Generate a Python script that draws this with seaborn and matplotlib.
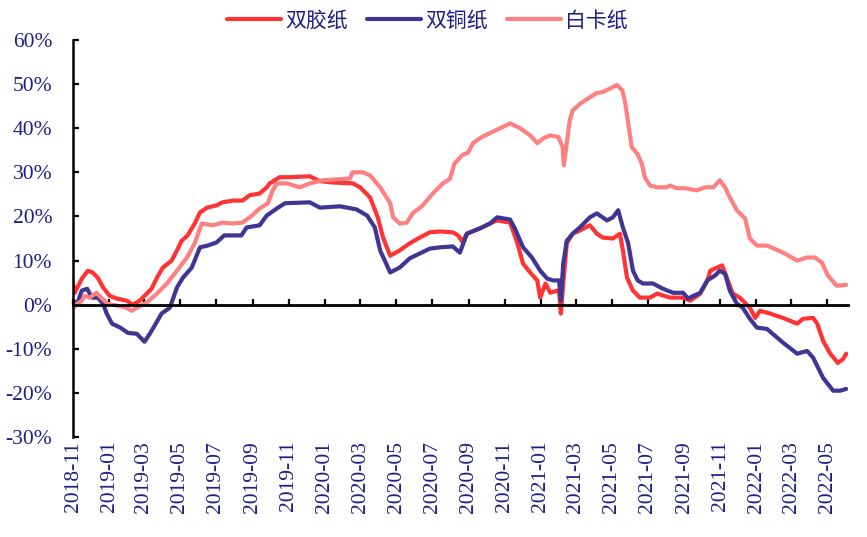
import matplotlib
matplotlib.use("Agg")
import matplotlib.pyplot as plt
import matplotlib.dates as mdates
from matplotlib.ticker import FuncFormatter
import pandas as pd
import seaborn as sns

# ---- data -------------------------------------------------------------
series_names = ["双胶纸", "双铜纸", "白卡纸"]
series_colors = ["#FF3333", "#3F3593", "#FF8080"]

offset_dates = [
    "2018-11-01", "2018-11-04", "2018-11-16", "2018-11-26", "2018-12-04", "2018-12-13",
    "2018-12-22", "2019-01-02", "2019-01-14", "2019-01-31", "2019-02-10", "2019-02-22",
    "2019-03-02", "2019-03-14", "2019-03-23", "2019-04-02", "2019-04-17", "2019-04-26",
    "2019-05-04", "2019-05-14", "2019-05-26", "2019-06-04", "2019-06-16", "2019-07-02",
    "2019-07-12", "2019-07-30", "2019-08-15", "2019-08-27", "2019-09-13", "2019-09-25",
    "2019-09-30", "2019-10-17", "2019-11-03", "2019-12-07", "2019-12-24", "2020-01-15",
    "2020-02-18", "2020-03-01", "2020-03-18", "2020-03-31", "2020-04-09", "2020-04-21",
    "2020-05-07", "2020-05-24", "2020-06-10", "2020-06-27", "2020-07-14", "2020-08-05",
    "2020-08-14", "2020-08-21", "2020-08-29", "2020-09-20", "2020-10-07", "2020-10-19",
    "2020-11-10", "2020-11-21", "2020-12-02", "2020-12-14", "2020-12-26", "2020-12-31",
    "2021-01-09", "2021-01-17", "2021-01-29", "2021-02-01", "2021-02-04", "2021-02-08",
    "2021-02-14", "2021-02-24", "2021-03-08", "2021-03-25", "2021-04-06", "2021-04-16",
    "2021-05-03", "2021-05-15", "2021-05-20", "2021-05-27", "2021-06-06", "2021-06-18",
    "2021-07-05", "2021-07-17", "2021-08-08", "2021-08-30", "2021-09-11", "2021-09-28",
    "2021-10-10", "2021-10-15", "2021-10-23", "2021-11-04", "2021-11-12", "2021-11-22",
    "2021-12-04", "2021-12-21", "2021-12-30", "2022-01-07", "2022-01-19", "2022-02-15",
    "2022-03-11", "2022-03-21", "2022-04-07", "2022-04-14", "2022-04-24", "2022-05-06",
    "2022-05-19", "2022-05-28", "2022-06-02",
]
offset_values = [
    4.8, 2.7, 5.9, 7.7, 7.3, 6.1, 3.9, 2.0, 1.4, 0.9, 0.0, 0.9,
    2.0, 3.6, 6.1, 8.4, 10.0, 12.3, 14.5, 15.7, 18.4, 20.9, 22.0, 22.5,
    23.2, 23.6, 23.6, 24.8, 25.2, 26.6, 27.5, 28.9, 28.9, 29.1, 28.0, 27.7,
    27.5, 26.6, 24.3, 19.8, 15.2, 11.1, 12.3, 13.9, 15.2, 16.4, 16.6, 16.4,
    15.7, 14.3, 16.1, 17.3, 18.4, 19.1, 18.6, 14.5, 9.3, 7.3, 5.5, 1.6,
    4.8, 2.7, 3.2, 3.0, -2.0, 4.8, 13.9, 16.1, 16.8, 18.0, 16.1, 15.2,
    15.0, 16.1, 12.3, 6.1, 3.2, 1.6, 1.6, 2.5, 1.6, 1.6, 0.9, 2.5,
    5.5, 7.7, 8.2, 8.9, 6.1, 2.5, 1.6, -0.7, -3.0, -1.4, -1.8, -3.0,
    -4.3, -3.2, -3.0, -4.3, -8.2, -11.1, -13.2, -12.3, -11.1,
]

coated_dates = [
    "2018-11-01", "2018-11-08", "2018-11-16", "2018-11-25", "2018-12-03", "2018-12-13",
    "2018-12-22", "2018-12-28", "2019-01-06", "2019-01-20", "2019-02-02", "2019-02-17",
    "2019-02-25", "2019-03-02", "2019-03-11", "2019-03-19", "2019-03-31", "2019-04-14",
    "2019-04-26", "2019-05-06", "2019-05-21", "2019-06-04", "2019-06-17", "2019-07-02",
    "2019-07-15", "2019-08-13", "2019-08-22", "2019-09-13", "2019-09-25", "2019-10-12",
    "2019-10-26", "2019-12-07", "2019-12-24", "2020-01-27", "2020-02-24", "2020-03-13",
    "2020-03-26", "2020-04-04", "2020-04-21", "2020-05-07", "2020-05-24", "2020-06-10",
    "2020-06-27", "2020-07-14", "2020-08-05", "2020-08-17", "2020-08-29", "2020-09-20",
    "2020-10-07", "2020-10-19", "2020-11-10", "2020-11-18", "2020-12-02", "2020-12-17",
    "2020-12-31", "2021-01-12", "2021-01-22", "2021-02-01", "2021-02-04", "2021-02-08",
    "2021-02-14", "2021-02-24", "2021-03-08", "2021-03-25", "2021-04-06", "2021-04-23",
    "2021-05-03", "2021-05-12", "2021-05-20", "2021-05-29", "2021-06-06", "2021-06-14",
    "2021-06-23", "2021-07-10", "2021-07-27", "2021-08-13", "2021-08-30", "2021-09-07",
    "2021-09-28", "2021-10-10", "2021-10-23", "2021-10-31", "2021-11-09", "2021-11-17",
    "2021-11-29", "2021-12-09", "2021-12-21", "2022-01-02", "2022-01-19", "2022-02-15",
    "2022-03-11", "2022-03-28", "2022-04-07", "2022-04-24", "2022-05-11", "2022-05-23",
    "2022-06-02",
]
coated_values = [
    0.9, 0.2, 3.2, 3.6, 1.6, 1.6, 0.2, -2.0, -4.3, -5.2, -6.4, -6.6,
    -7.7, -8.4, -6.6, -4.8, -2.0, -0.7, 3.9, 6.1, 8.4, 13.0, 13.4, 14.1,
    15.7, 15.7, 17.5, 18.0, 20.2, 21.8, 23.0, 23.2, 22.0, 22.3, 21.6, 20.2,
    17.5, 12.3, 7.3, 8.4, 10.5, 11.6, 12.7, 13.0, 13.2, 11.8, 16.1, 17.3,
    18.4, 19.8, 19.3, 17.3, 13.0, 10.7, 7.7, 5.9, 5.5, 5.5, 0.9, 9.3,
    14.5, 16.1, 17.5, 19.8, 20.7, 19.1, 19.8, 21.4, 17.5, 13.9, 7.7, 5.5,
    4.8, 4.8, 3.6, 2.7, 2.7, 1.4, 2.7, 5.5, 6.6, 7.7, 7.0, 3.2,
    0.2, -0.7, -3.2, -5.2, -5.5, -8.6, -11.1, -10.5, -12.0, -16.6, -19.5, -19.5,
    -19.1,
]

board_dates = [
    "2018-11-01", "2018-11-08", "2018-11-16", "2018-11-21", "2018-11-29", "2018-12-11",
    "2018-12-20", "2018-12-30", "2019-01-14", "2019-01-31", "2019-02-08", "2019-02-17",
    "2019-03-06", "2019-03-23", "2019-04-09", "2019-04-26", "2019-05-13", "2019-05-26",
    "2019-06-07", "2019-06-26", "2019-07-12", "2019-07-30", "2019-08-15", "2019-08-31",
    "2019-09-13", "2019-09-27", "2019-10-05", "2019-10-12", "2019-10-29", "2019-11-20",
    "2019-12-07", "2019-12-29", "2020-02-13", "2020-02-17", "2020-03-06", "2020-03-18",
    "2020-04-04", "2020-04-21", "2020-04-26", "2020-05-07", "2020-05-19", "2020-05-29",
    "2020-06-15", "2020-07-02", "2020-07-19", "2020-07-31", "2020-08-08", "2020-08-21",
    "2020-08-31", "2020-09-08", "2020-09-23", "2020-10-07", "2020-10-24", "2020-11-10",
    "2020-11-27", "2020-12-14", "2020-12-26", "2021-01-05", "2021-01-17", "2021-01-31",
    "2021-02-07", "2021-02-09", "2021-02-14", "2021-02-19", "2021-02-24", "2021-03-08",
    "2021-03-25", "2021-04-06", "2021-04-16", "2021-04-28", "2021-05-10", "2021-05-19",
    "2021-05-24", "2021-05-29", "2021-06-04", "2021-06-13", "2021-06-21", "2021-06-26",
    "2021-07-05", "2021-07-17", "2021-08-02", "2021-08-08", "2021-08-19", "2021-09-02",
    "2021-09-22", "2021-10-06", "2021-10-20", "2021-10-31", "2021-11-09", "2021-11-17",
    "2021-11-29", "2021-12-13", "2021-12-21", "2022-01-02", "2022-01-19", "2022-02-15",
    "2022-03-11", "2022-03-28", "2022-04-10", "2022-04-22", "2022-05-02", "2022-05-17",
    "2022-06-02",
]
board_values = [
    -0.7, 0.2, 0.9, 2.0, 1.6, 2.7, 1.4, 0.2, -0.2, -0.7, -1.4, -0.7,
    0.5, 2.5, 4.8, 7.7, 10.7, 13.9, 18.4, 18.0, 18.6, 18.4, 18.6, 20.2,
    21.8, 23.0, 25.9, 27.5, 27.5, 26.6, 27.5, 28.2, 28.6, 30.0, 30.0, 29.3,
    26.6, 23.0, 19.8, 18.4, 18.6, 20.7, 22.5, 25.2, 27.5, 28.5, 32.0, 33.9,
    34.5, 36.6, 38.0, 38.9, 40.0, 41.1, 40.0, 38.4, 36.6, 37.7, 38.4, 38.0,
    35.7, 31.6, 36.6, 41.8, 44.0, 45.5, 47.0, 48.0, 48.2, 49.0, 49.8, 48.6,
    45.7, 41.1, 35.7, 34.3, 32.0, 28.9, 27.0, 26.6, 26.6, 27.0, 26.4, 26.4,
    25.9, 26.6, 26.6, 28.2, 26.6, 24.3, 21.4, 19.5, 15.0, 13.4, 13.4, 11.8,
    10.0, 10.7, 10.7, 9.5, 6.6, 4.3, 4.5,
]

y_ticks = [-30, -20, -10, 0, 10, 20, 30, 40, 50, 60]

# ---- long-form table --------------------------------------------------
frames = []
for name, dates, values in zip(
    series_names,
    [offset_dates, coated_dates, board_dates],
    [offset_values, coated_values, board_values],
):
    frames.append(pd.DataFrame({"date": pd.to_datetime(dates), "value": values, "series": name}))
df = pd.concat(frames, ignore_index=True)

# ---- figure -----------------------------------------------------------
sns.set_style("white")
plt.rcParams["axes.unicode_minus"] = False
plt.rcParams["font.family"] = ["Noto Sans CJK SC", "DejaVu Sans"]

label_color = "#1E1E86"
serif = ["Liberation Serif", "DejaVu Serif"]

fig = plt.figure(figsize=(8.67, 5.37), dpi=100)
ax = fig.add_axes([0.0842, 0.1862, 0.8938, 0.7393])

sns.lineplot(
    data=df, x="date", y="value", hue="series",
    hue_order=series_names, palette=series_colors,
    linewidth=3, estimator=None, errorbar=None, legend=False, ax=ax,
)

ax.set_ylim(-30, 60)
ax.set_xlim(pd.Timestamp("2018-11-01"), pd.Timestamp("2022-06-05"))
ax.set_xlabel("")
ax.set_ylabel("")

# axes frame: left axis plus a zero line carrying the date ticks
for side in ("top", "right"):
    ax.spines[side].set_visible(False)
ax.spines["left"].set_linewidth(1.8)
ax.spines["left"].set_color("black")
ax.spines["bottom"].set_position(("data", 0))
ax.spines["bottom"].set_linewidth(2.0)
ax.spines["bottom"].set_color("black")

ax.set_yticks(y_ticks)
ax.yaxis.set_major_formatter(FuncFormatter(lambda v, _: f"{v:.0f}%"))
ax.tick_params(axis="y", direction="in", length=4.5, width=1.6, color="black",
               pad=15, labelsize=15.5, labelcolor=label_color, left=True)

ax.xaxis.set_major_locator(mdates.MonthLocator(bymonth=[1, 3, 5, 7, 9, 11]))
ax.xaxis.set_major_formatter(mdates.DateFormatter("%Y-%m"))
ax.tick_params(axis="x", direction="in", length=4.5, width=1.6, color="black",
               pad=98, labelsize=15.5, labelcolor=label_color, labelrotation=90,
               bottom=True)

for lab in ax.get_xticklabels() + ax.get_yticklabels():
    lab.set_fontfamily(serif)

ax.grid(False)

handles = ax.get_lines()[:3]
leg = ax.legend(
    handles, series_names, loc="center", ncol=3, frameon=False,
    bbox_to_anchor=(0.493, 0.962), bbox_transform=fig.transFigure,
    fontsize=15, handlelength=2.6, handletextpad=0.2, columnspacing=0.9,
    borderaxespad=0,
)
for txt in leg.get_texts():
    txt.set_color(label_color)

fig.savefig("out.png", dpi=100)
